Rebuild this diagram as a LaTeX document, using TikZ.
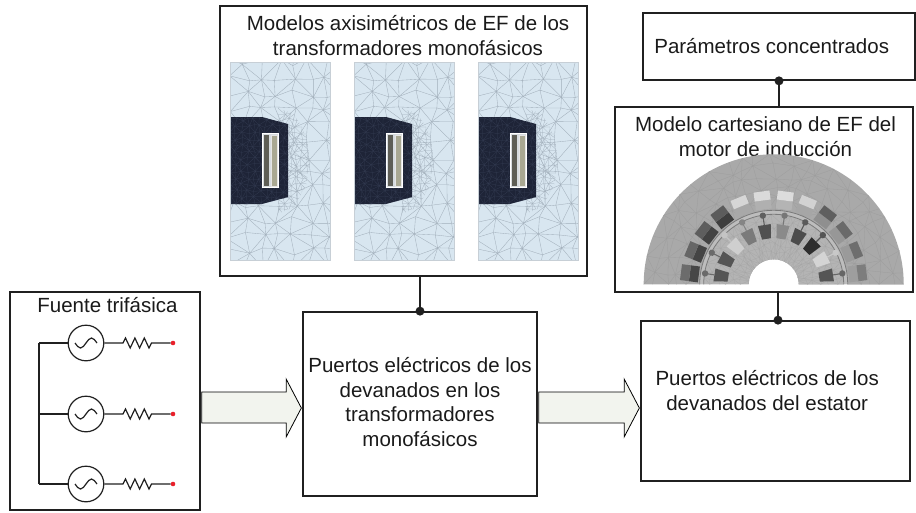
\documentclass[tikz,border=0pt]{standalone}
\usepackage{fontspec}
\setmainfont{Liberation Sans}
\usetikzlibrary{calc}
\definecolor{boxline}{HTML}{202020}
\definecolor{txt}{HTML}{1A1A1A}
\definecolor{meshbg}{HTML}{D8E6F0}
\definecolor{meshln}{HTML}{A2AFBB}
\definecolor{coreclr}{HTML}{1E2437}
\definecolor{coremesh}{HTML}{343C52}
\definecolor{winclr}{HTML}{D6DBDF}
\definecolor{coilA}{HTML}{5E5E56}
\definecolor{coilB}{HTML}{A9A892}
\definecolor{arrowfill}{HTML}{F2F4EE}
\definecolor{statorc}{HTML}{A9A9A9}
\definecolor{statorm}{HTML}{9D9D9D}
\definecolor{rotorc}{HTML}{B4B4B4}
\definecolor{rotorm}{HTML}{A6A6A6}
\definecolor{gapc}{HTML}{BDBDBD}
\definecolor{gapl}{HTML}{7A7A7A}
\definecolor{portred}{HTML}{E8202A}
\newcommand\mybarrow[2]{%
  \draw[barrow] let \p1=(#1.east), \p2=(#2.west) in
    (\x1+0.8pt,-392pt) -- (\x2-16pt,-392pt) -- (\x2-16pt,-379pt) -- (\x2-0.8pt,-408pt)
    -- (\x2-16pt,-437pt) -- (\x2-16pt,-423pt) -- (\x1+0.8pt,-423pt) -- cycle;}
\begin{document}
\begin{tikzpicture}[x=1pt,y=-1pt,
  box/.style={draw=boxline, line width=1.7pt, inner sep=0pt},
  lbl/.style={font=\fontsize{20.5}{24.4}\selectfont, align=center, text=txt, inner sep=0pt},
  conn/.style={draw=boxline, line width=1.3pt},
  jdot/.style={circle, fill=boxline, inner sep=0pt, minimum size=9pt},
  barrow/.style={draw=black, line width=0.8pt, fill=arrowfill, line join=miter},
  wire/.style={draw=boxline, line width=1.2pt},
  srcc/.style={circle, draw=boxline, line width=1.2pt, inner sep=0pt, minimum size=35.6pt},
  rdot/.style={circle, fill=portred, inner sep=0pt, minimum size=4.6pt},
  meshl/.style={draw=meshln, line width=0.35pt},
  finel/.style={draw=meshln, line width=0.25pt},
  coreml/.style={draw=coremesh, line width=0.25pt},
  stmesh/.style={draw=statorm, line width=0.3pt},
  rtmesh/.style={draw=rotorm, line width=0.25pt}]
\useasboundingbox (0,0) rectangle (916,512);

% ---------- boxes ----------
\node[box, minimum width=367pt, minimum height=270pt] (fem) at (403.5,141) {};
\node[box, minimum width=272pt, minimum height=67pt] (par) at (779,46.5) {};
\node[box, minimum width=298pt, minimum height=185pt] (mot) at (764,199.5) {};
\node[box, minimum width=190pt, minimum height=218pt] (src) at (105,401) {};
\node[box, minimum width=234pt, minimum height=184pt] (tr) at (420,404) {};
\node[box, minimum width=269pt, minimum height=160pt] (est) at (775.5,401) {};

% ---------- texts ----------
\node[lbl] (femt) at (408,35.5) {Modelos axisimétricos de EF de los\\transformadores monofásicos};
\node[lbl] (part) at (771.7,46.3) {Parámetros concentrados};
\node[lbl] (mott) at (765.5,136.5) {Modelo cartesiano de EF del\\motor de inducción};
\node[lbl] (srct) at (107.5,305) {Fuente trifásica};
\node[lbl] (trt) at (420,402) {Puertos eléctricos de los\\devanados en los\\transformadores\\monofásicos};
\node[lbl] (estt) at (767.2,390.5) {Puertos eléctricos de los\\devanados del estator};

% ---------- FE mesh panels ----------
\foreach \ox in {230,354,478}{
\begin{scope}[shift={(\ox,62)}]
  \fill[meshbg] (0,0) rectangle (100,198);
  \begin{scope}
    \clip (0,0) rectangle (100,198);
    \foreach \i in {0,...,8}{\foreach \j in {0,...,14}{
      \pgfmathsetmacro\mx{(\i-1)*16+3.8*sin(97*\i+61*\j*\j+13)}
      \pgfmathsetmacro\my{(\j-1)*15.8+3.8*cos(53*\i*\i+89*\j+7)}
      \coordinate (m-\i-\j) at (\mx,\my);}}
    \foreach \i [evaluate=\i as \ni using int(\i+1)] in {0,...,7}{
      \foreach \j [evaluate=\j as \nj using int(\j+1)] in {0,...,13}{
        \draw[meshl] (m-\i-\j) -- (m-\ni-\j) (m-\i-\j) -- (m-\i-\nj);
        \ifodd\numexpr\i+\j\relax
          \draw[meshl] (m-\i-\j) -- (m-\ni-\nj);
        \else
          \draw[meshl] (m-\ni-\j) -- (m-\i-\nj);
        \fi}}
    % fine mesh around the core
    \foreach \i in {0,...,14}{\foreach \j in {0,...,19}{
      \pgfmathsetmacro\mx{\i*6+1.5*sin(71*\i+37*\j*\j)}
      \pgfmathsetmacro\my{38+\j*6.5+1.5*cos(43*\i*\i+59*\j)}
      \coordinate (f-\i-\j) at (\mx,\my);}}
    \begin{scope}
      \clip (48,46) -- (64,52) -- (76,72) -- (80,98) -- (76,124) -- (64,145) -- (48,152) -- cycle;
      \foreach \i [evaluate=\i as \ni using int(\i+1)] in {7,...,13}{
        \foreach \j [evaluate=\j as \nj using int(\j+1)] in {0,...,18}{
          \draw[finel] (f-\i-\j) -- (f-\ni-\j) (f-\i-\j) -- (f-\i-\nj);
          \ifodd\numexpr\i+\j\relax
            \draw[finel] (f-\i-\j) -- (f-\ni-\nj);
          \else
            \draw[finel] (f-\ni-\j) -- (f-\i-\nj);
          \fi}}
    \end{scope}
    % core
    \fill[coreclr] (0,55) -- (32,55) -- (58,62) -- (58,135) -- (32,142) -- (0,142) -- cycle;
    \begin{scope}
      \clip (0,55) -- (32,55) -- (58,62) -- (58,135) -- (32,142) -- (0,142) -- cycle;
      \foreach \i [evaluate=\i as \ni using int(\i+1)] in {0,...,9}{
        \foreach \j [evaluate=\j as \nj using int(\j+1)] in {0,...,18}{
          \draw[coreml] (f-\i-\j) -- (f-\ni-\j) (f-\i-\j) -- (f-\i-\nj);
          \ifodd\numexpr\i+\j\relax
            \draw[coreml] (f-\i-\j) -- (f-\ni-\nj);
          \else
            \draw[coreml] (f-\ni-\j) -- (f-\i-\nj);
          \fi}}
    \end{scope}
  \end{scope}
  \draw[draw=meshln!60, line width=0.4pt] (0,0) rectangle (100,198);
  % window with coils
  \fill[winclr] (32,71) rectangle (49,126);
  \draw[draw=white, line width=0.4pt] (32.5,71.5) rectangle (48.5,125.5);
  \fill[coilA] (34,73) rectangle (39,124);
  \fill[coilB] (41,73) rectangle (47,124);
  \draw[draw=white!80!gray, line width=0.3pt] (41,73) rectangle (47,124);
\end{scope}}

% ---------- induction motor ----------
\begin{scope}[shift={(773.7,284.3)}, yscale=-1]
  % stator
  \fill[statorc] (130,0) arc[start angle=0,end angle=180,radius=130] -- (-74,0)
     arc[start angle=180,end angle=0,radius=74] -- cycle;
  \begin{scope}
    \clip (130,0) arc[start angle=0,end angle=180,radius=130] -- (-74,0)
       arc[start angle=180,end angle=0,radius=74] -- cycle;
    \foreach \k in {0,...,24}{\foreach \m in {0,...,5}{
      \pgfmathsetmacro\ang{\k*7.5+(\k>0)*(\k<24)*2.5*sin(77*\k+41*\m)}
      \pgfmathsetmacro\rad{74+\m*11.2+(\m>0)*(\m<5)*2.5*cos(59*\k+23*\m*\m)}
      \coordinate (s-\k-\m) at (\ang:\rad);}}
    \foreach \k [evaluate=\k as \nk using int(\k+1)] in {0,...,23}{
      \foreach \m [evaluate=\m as \nm using int(\m+1)] in {0,...,4}{
        \draw[stmesh] (s-\k-\m) -- (s-\nk-\m) (s-\k-\m) -- (s-\k-\nm);
        \ifodd\numexpr\k+\m\relax
          \draw[stmesh] (s-\k-\m) -- (s-\nk-\nm);
        \else
          \draw[stmesh] (s-\nk-\m) -- (s-\k-\nm);
        \fi}}
  \end{scope}
  % air gap
  \fill[gapc] (74,0) arc[start angle=0,end angle=180,radius=74] -- (-70,0)
     arc[start angle=180,end angle=0,radius=70] -- cycle;
  % rotor
  \fill[rotorc] (70,0) arc[start angle=0,end angle=180,radius=70] -- (-25,0)
     arc[start angle=180,end angle=0,radius=25] -- cycle;
  \begin{scope}
    \clip (70,0) arc[start angle=0,end angle=180,radius=70] -- (-25,0)
       arc[start angle=180,end angle=0,radius=25] -- cycle;
    \foreach \k in {0,...,30}{\foreach \m in {0,...,6}{
      \pgfmathsetmacro\ang{\k*6+(\k>0)*(\k<30)*2*sin(83*\k+47*\m)}
      \pgfmathsetmacro\rad{25+\m*7.5+(\m>0)*(\m<6)*1.8*cos(61*\k+29*\m*\m)}
      \coordinate (r-\k-\m) at (\ang:\rad);}}
    \foreach \k [evaluate=\k as \nk using int(\k+1)] in {0,...,29}{
      \foreach \m [evaluate=\m as \nm using int(\m+1)] in {0,...,5}{
        \draw[rtmesh] (r-\k-\m) -- (r-\nk-\m) (r-\k-\m) -- (r-\k-\nm);
        \ifodd\numexpr\k+\m\relax
          \draw[rtmesh] (r-\k-\m) -- (r-\nk-\nm);
        \else
          \draw[rtmesh] (r-\nk-\m) -- (r-\k-\nm);
        \fi}}
  \end{scope}
  \draw[draw=gapl, line width=0.8pt] (74,0) arc[start angle=0,end angle=180,radius=74];
  \draw[draw=gapl, line width=0.8pt] (70,0) arc[start angle=0,end angle=180,radius=70];
  % stator slots (outer / inner coil sides)
  \foreach \a/\co/\ci in {7.5/7D7D7D/9E9E9E, 22.5/6E6E6E/9A9A9A, 37.5/6A6A6A/979797,
      52.5/5F5F5F/8F8F8F, 67.5/D2D2D2/A6A6A6, 82.5/DCDCDC/B4B4B4, 97.5/DADADA/B0B0B0,
      112.5/D6D6D6/A8A8A8, 127.5/5C5C5C/3E3E3E, 142.5/5E5E5E/424242,
      157.5/666666/444444, 172.5/6C6C6C/474747}{
    \definecolor{slotout}{HTML}{\co}\definecolor{slotin}{HTML}{\ci}
    \begin{scope}[rotate=-\a]
      \fill[slotin] (75.5,-8) rectangle (84.5,8);
      \fill[slotout] (84.5,-8) rectangle (93.5,8);
    \end{scope}}
  % rotor bars
  \foreach \a/\cb/\cc in {9/555555/666666, 27/D4D4D4/C8C8C8, 45/2E2E2E/555555,
      63/4C4C4C/5A5A5A, 81/8A8A8A/777777, 99/505050/606060, 117/7A7A7A/858585,
      135/CFCFCF/C4C4C4, 153/555555/6A6A6A, 171/555555/6A6A6A}{
    \definecolor{barc}{HTML}{\cb}\definecolor{barcirc}{HTML}{\cc}
    \begin{scope}[rotate=-\a]
      \fill[barc] (46,-4.5) -- (60,-6.5) -- (60,6.5) -- (46,4.5) -- cycle;
      \draw[draw=barcirc, line width=1.1pt] (60,0) -- (67,0);
      \fill[barcirc] (69.5,0) circle[radius=3.2];
    \end{scope}}
\end{scope}

% ---------- three-phase source ----------
\coordinate (bustop) at (39,343);
\coordinate (busbot) at (39,484);
\draw[wire] (bustop) -- (busbot);
\foreach \yy/\nm in {343/a,414/b,484/c}{
  \node[srcc] (g\nm) at (86,\yy) {};
  \node[rdot] (p\nm) at (173,\yy) {};
  \draw[wire] (39,\yy) -- (g\nm.west);
  \draw[wire] (g\nm.east) -- (123,\yy) -- ++(2.5,-5) -- ++(4.7,10) -- ++(4.7,-10)
     -- ++(4.7,10) -- ++(4.7,-10) -- ++(4.7,10) -- ++(2.5,-5) -- (p\nm.west);
  \draw[wire] ([xshift=-11pt]g\nm.center) sin ++(5.5,5) cos ++(5.5,-5) sin ++(5.5,-5) cos ++(5.5,5);
}

% ---------- block arrows ----------
\mybarrow{src}{tr}
\mybarrow{tr}{est}

% ---------- connectors ----------
\draw[conn] (tr.north) -- (tr.north |- fem.south);
\node[jdot] (d1) at (tr.north) {};
\draw[conn] (par.south) -- (par.south |- mot.north);
\node[jdot] (d2) at (par.south) {};
\coordinate (estn) at ([xshift=2.5pt]est.north);
\draw[conn] (estn) -- (estn |- mot.south);
\node[jdot] (d3) at (estn) {};
\end{tikzpicture}
\end{document}
